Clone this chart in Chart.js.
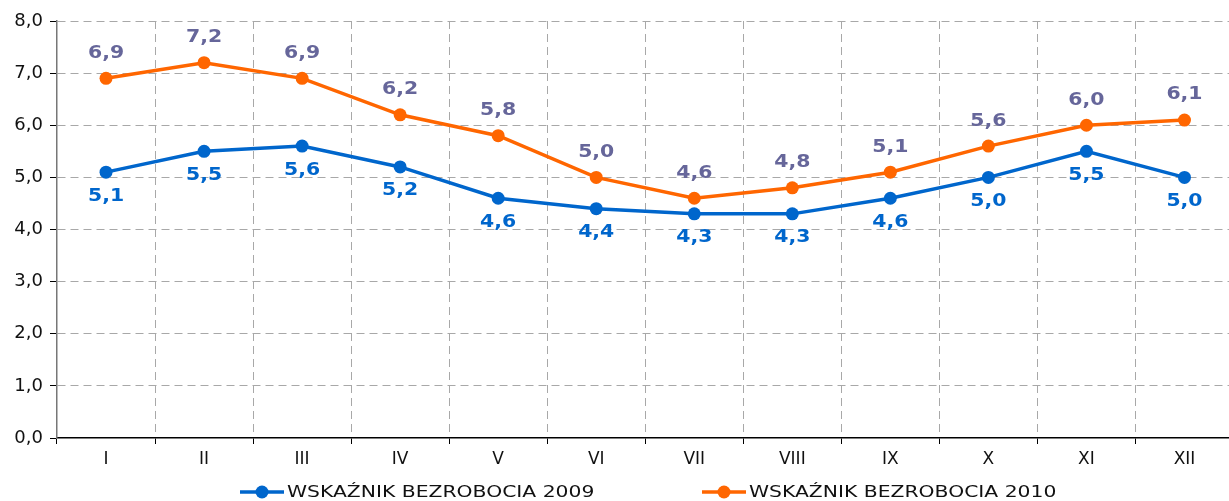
<!DOCTYPE html>
<html>
<head>
<meta charset="utf-8">
<script src="https://cdn.jsdelivr.net/npm/chart.js@4"></script>
<style>
  html, body { margin: 0; padding: 0; background: #fff; overflow: hidden; }
  #wrap { width: 1240px; height: 501px; }
</style>
</head>
<body>
<div id="wrap"><canvas id="chart" width="1240" height="501"></canvas></div>
<script>
// months and yearly unemployment rate
const months = ['I', 'II', 'III', 'IV', 'V', 'VI', 'VII', 'VIII', 'IX', 'X', 'XI', 'XII'];
const rate2009 = [5.1, 5.5, 5.6, 5.2, 4.6, 4.4, 4.3, 4.3, 4.6, 5.0, 5.5, 5.0];
const rate2010 = [6.9, 7.2, 6.9, 6.2, 5.8, 5.0, 4.6, 4.8, 5.1, 5.6, 6.0, 6.1];
const seriesNames = ['WSKAŹNIK BEZROBOCIA 2009', 'WSKAŹNIK BEZROBOCIA 2010'];

const blue = '#0066cc';
const orange = '#ff6600';
const gridGray = '#a8a8a8';
const labelFont = 'DejaVu Sans';

function fmt(v) {
    return v.toFixed(1).replace('.', ',');
}

// text in the original is a bit stretched sideways
function wideText(ctx, text, x, y, sx) {
    ctx.save();
    ctx.translate(x, y);
    ctx.scale(sx, 1);
    ctx.fillText(text, 0, 0);
    ctx.restore();
}

// value labels: 2009 below the points, 2010 above
const valueLabels = {
    id: 'valueLabels',
    afterDatasetsDraw(chart) {
        const ctx = chart.ctx;
        ctx.save();
        ctx.font = 'bold 17px ' + labelFont;
        ctx.textAlign = 'center';
        ctx.textBaseline = 'middle';
        chart.data.datasets.forEach(function(ds, i) {
            const meta = chart.getDatasetMeta(i);
            meta.data.forEach(function(pt, j) {
                if (i === 0) {
                    ctx.fillStyle = blue;
                    wideText(ctx, fmt(ds.data[j]), pt.x, pt.y + 24, 1.2);
                } else {
                    ctx.fillStyle = '#66669a';
                    wideText(ctx, fmt(ds.data[j]), pt.x, pt.y - 25, 1.2);
                }
            });
        });
        ctx.restore();
    }
};

// legend drawn at the bottom: line + marker + text
const bottomLegend = {
    id: 'bottomLegend',
    afterDraw(chart) {
        const ctx = chart.ctx;
        const starts = [240, 702];
        const y = 492;
        ctx.save();
        ctx.font = '16px ' + labelFont;
        ctx.textBaseline = 'middle';
        ctx.textAlign = 'left';
        chart.data.datasets.forEach(function(ds, i) {
            const x = starts[i];
            ctx.strokeStyle = ds.borderColor;
            ctx.lineWidth = 3.5;
            ctx.beginPath();
            ctx.moveTo(x, y);
            ctx.lineTo(x + 44, y);
            ctx.stroke();
            ctx.fillStyle = ds.borderColor;
            ctx.beginPath();
            ctx.arc(x + 22, y, 6.5, 0, Math.PI * 2);
            ctx.fill();
            ctx.fillStyle = '#111';
            wideText(ctx, ds.label, x + 47, y + 1, 1.27);
        });
        ctx.restore();
    }
};

new Chart(document.getElementById('chart'), {
    type: 'line',
    data: {
        labels: months,
        datasets: [
            {
                label: seriesNames[0],
                data: rate2009,
                borderColor: blue,
                backgroundColor: blue,
                borderWidth: 3.5,
                pointRadius: 6.5,
                pointBorderWidth: 0,
                tension: 0
            },
            {
                label: seriesNames[1],
                data: rate2010,
                borderColor: orange,
                backgroundColor: orange,
                borderWidth: 3.5,
                pointRadius: 6.5,
                pointBorderWidth: 0,
                tension: 0
            }
        ]
    },
    options: {
        responsive: false,
        animation: false,
        layout: { padding: { top: 21, left: 0, right: 1, bottom: 0 } },
        plugins: {
            legend: { display: false },
            tooltip: { enabled: false }
        },
        scales: {
            x: {
                offset: true,
                afterFit: function(scale) { scale.height = 63; },
                grid: {
                    offset: true,
                    color: function(c) { return c.index === 0 ? 'rgba(0,0,0,0)' : gridGray; },
                    tickColor: '#000',
                    tickLength: 6,
                    tickBorderDash: []
                },
                border: { color: '#000', width: 1.5, dash: [8, 5] },
                ticks: {
                    color: '#111',
                    font: { family: labelFont, size: 17 },
                    padding: 5
                }
            },
            y: {
                min: 0,
                max: 8,
                afterFit: function(scale) { scale.width = 57; },
                grid: {
                    color: function(c) { return c.tick && c.tick.value === 0 ? 'rgba(0,0,0,0)' : gridGray; },
                    tickColor: '#000',
                    tickLength: 7,
                    tickBorderDash: []
                },
                border: { color: '#777', width: 1.5, dash: [8, 5] },
                ticks: {
                    stepSize: 1,
                    color: '#111',
                    font: { family: labelFont, size: 18 },
                    padding: 7,
                    callback: function(v) { return fmt(v); }
                }
            }
        }
    },
    plugins: [valueLabels, bottomLegend]
});
</script>
</body>
</html>
